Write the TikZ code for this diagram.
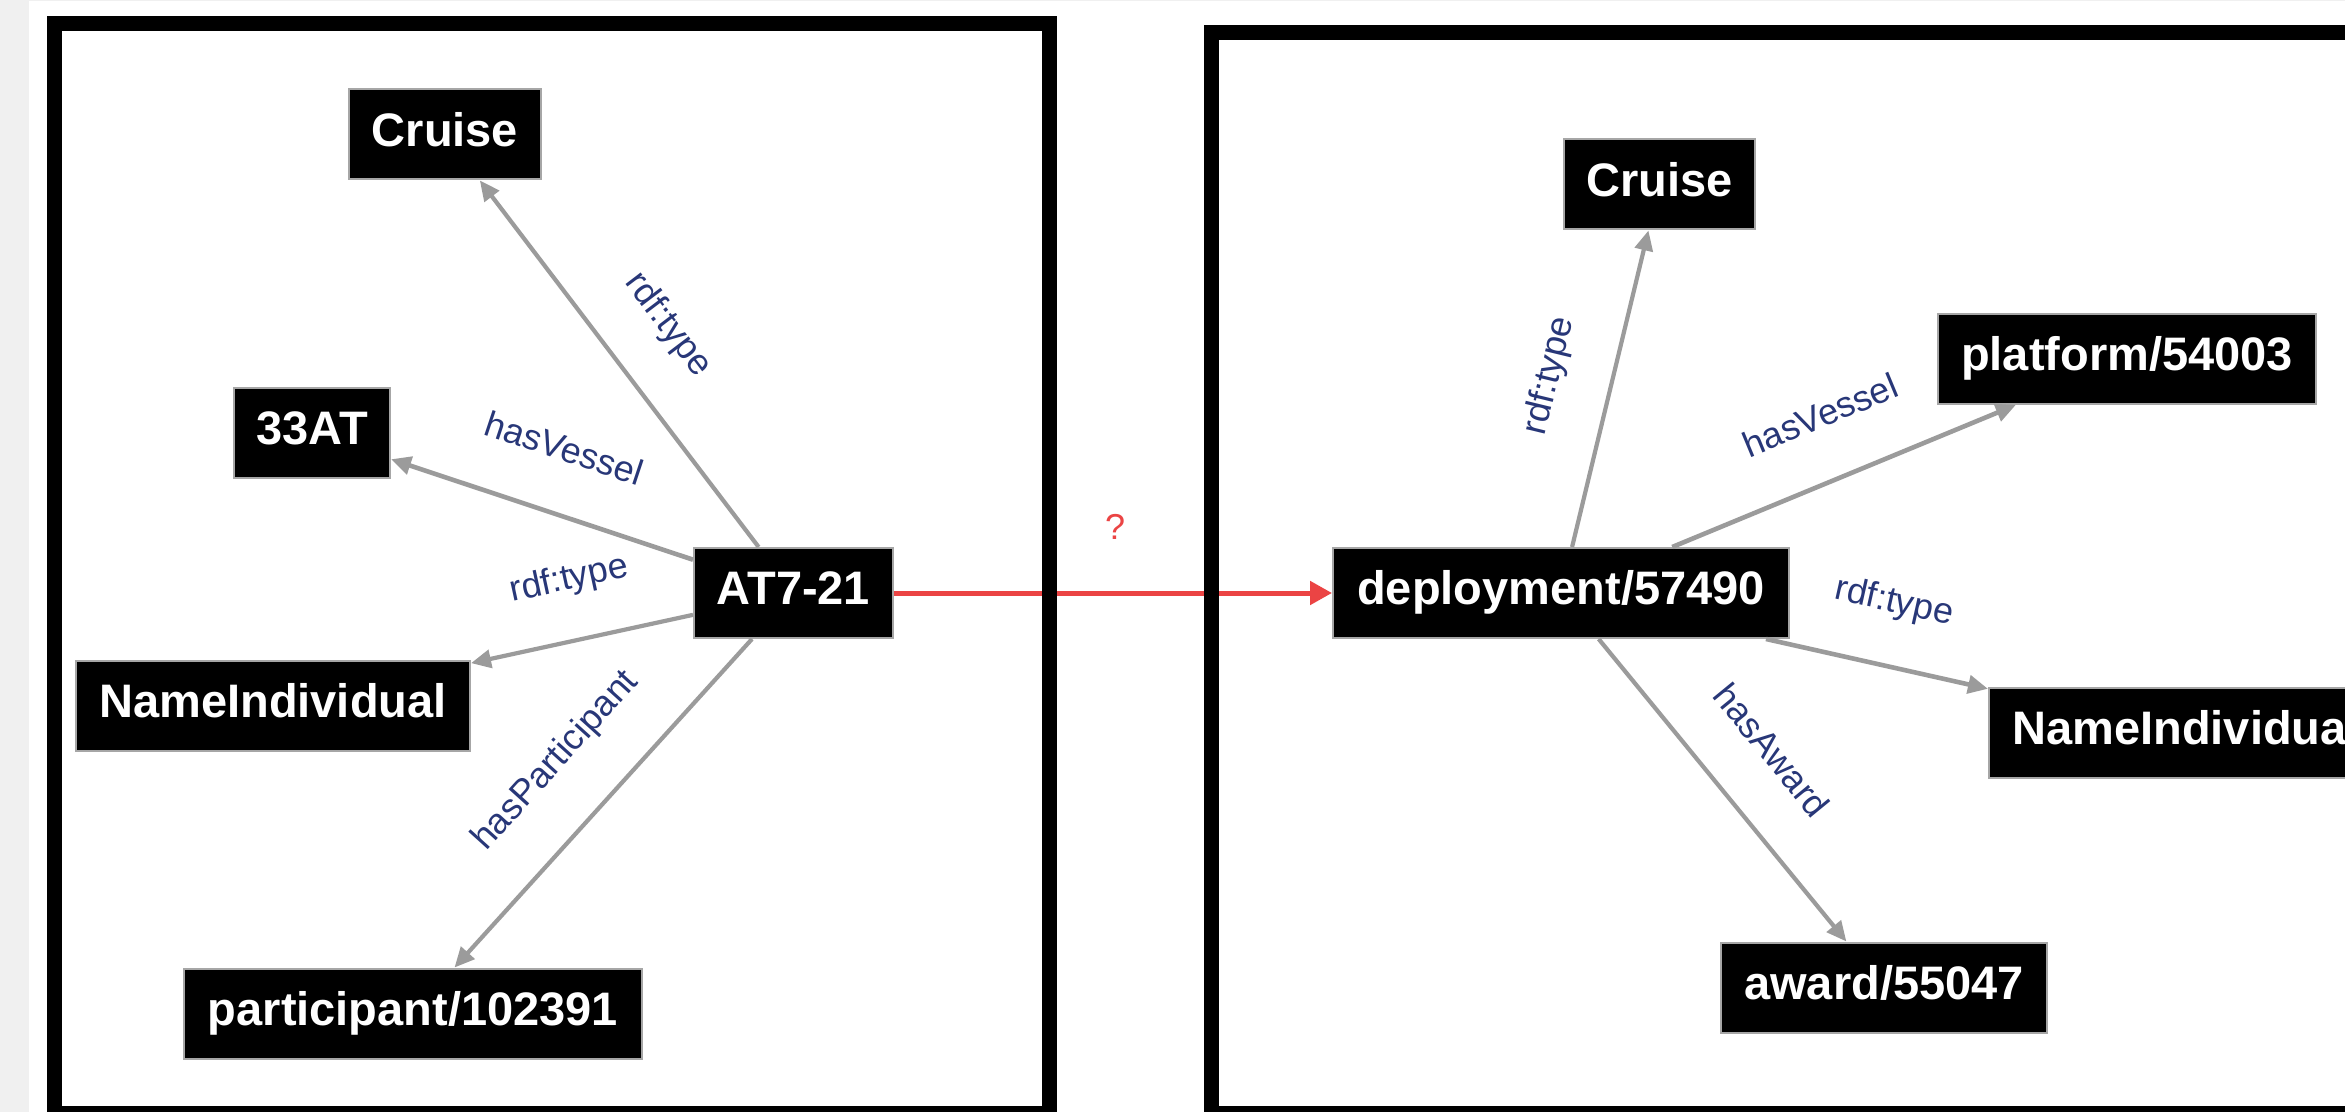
\documentclass[tikz,border=0pt]{standalone}
\usepackage{fontspec}
\setmainfont{Liberation Sans}
\usetikzlibrary{arrows.meta}
\definecolor{edgegray}{RGB}{155,155,155}
\definecolor{labnavy}{RGB}{40,55,120}
\definecolor{arrred}{RGB}{235,68,68}
\definecolor{bandgray}{RGB}{240,240,240}
\begin{document}
\begin{tikzpicture}[x=0.5pt,y=-0.5pt,
  box/.style={fill=black, draw=gray!70, line width=1pt, text=white,
    font=\bfseries\fontsize{23.5}{28}\selectfont, inner sep=0pt,
    minimum height=45pt, text height=17.6pt, text depth=5.9pt},
  edge/.style={draw=edgegray, line width=2.1pt, -{Triangle[length=10pt,width=9pt]}},
  thickedge/.style={edge, line width=2.3pt},
  lab/.style={text=labnavy, font=\fontsize{18}{21}\selectfont, inner sep=0pt},
  frame/.style={draw=black, line width=7.5pt},
  redarrow/.style={draw=arrred, line width=2.5pt, -{Triangle[length=11pt,width=11.5pt]}}]
\clip (0,0) rectangle (2345,1112);
\fill[bandgray] (0,0) rectangle (2345,1112);
\fill[white] (29,1) rectangle (2345,1112);

% left graph nodes
\node[box, minimum width=96pt]  (lcruise) at (445,134.5) {Cruise};
\node[box, minimum width=78pt]  (lat33)   at (312,433)   {33AT};
\node[box, minimum width=99.5pt](at)      at (793.5,593) {AT7-21};
\node[box, minimum width=197pt] (lname)   at (273,706)   {NameIndividual};
\node[box, minimum width=229pt] (part)    at (413,1013.5){participant/102391};

% right graph nodes
\node[box, minimum width=95.5pt](rcruise) at (1659.5,184.5){Cruise};
\node[box, minimum width=189pt] (plat)    at (2127,359)  {platform/54003};
\node[box, minimum width=228pt] (dep)     at (1561,593)  {deployment/57490};
\node[box, minimum width=197pt] (rname)   at (2186,733)  {NameIndividual};
\node[box, minimum width=163pt] (award)   at (1884,987.5){award/55047};

% left edges
\draw[edge] (at) -- (lcruise);
\draw[thickedge] (at) -- (lat33);
\draw[edge] (at) -- (lname);
\draw[edge] (at) -- (part);
% right edges
\draw[edge] (dep) -- (rcruise);
\draw[thickedge] (dep) -- (plat);
\draw[thickedge] (dep) -- (rname);
\draw[edge] (dep) -- (award);

% edge labels
\node[lab, rotate=-52.8] (t1) at (668,325) {rdf:type};
\node[lab, rotate=-18.4] (t2) at (564,448) {hasVessel};
\node[lab, rotate=12.2]  (t3) at (569,580) {rdf:type};
\node[lab, rotate=47.9]  (t4) at (556,761) {hasParticipant};
\node[lab, rotate=76.4]  (t5) at (1550,376) {rdf:type};
\node[lab, rotate=22.5]  (t6) at (1820,415) {hasVessel};
\node[lab, rotate=-12.6] (t7) at (1894,603) {rdf:type};
\node[lab, rotate=-50.7] (t8) at (1772,750) {hasAward};

% red link
\draw[redarrow] (at) -- (dep);
\node[text=arrred, font=\fontsize{18}{21}\selectfont, inner sep=0pt] (q) at (1115,527) {?};

% frames
\draw[frame] (54.5,23.5) rectangle (1049.5,1113.5);
\draw[frame] (1211.5,32.5) rectangle (2370,1113.5);
\end{tikzpicture}
\end{document}
